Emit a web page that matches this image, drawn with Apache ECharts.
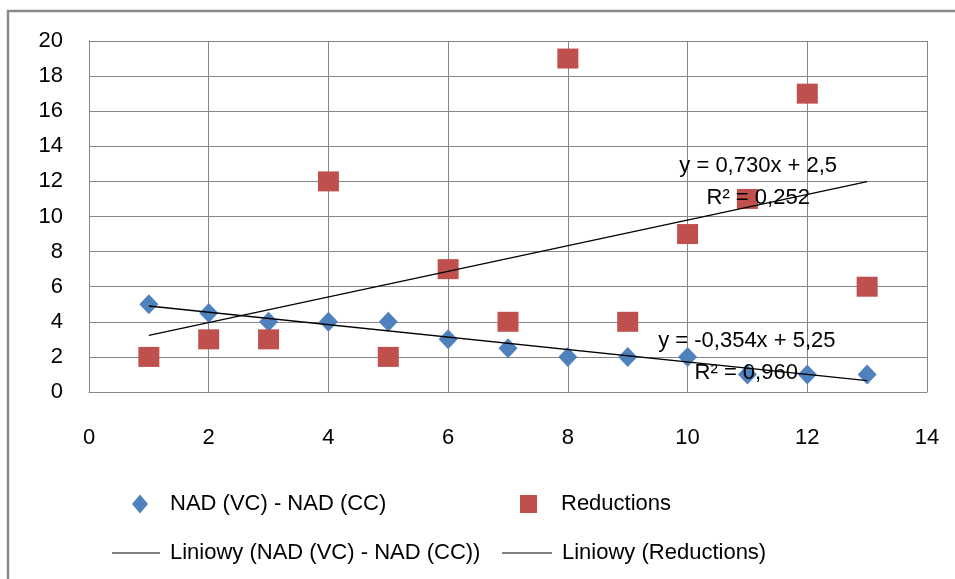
<!DOCTYPE html>
<html>
<head>
<meta charset="utf-8">
<script src="https://cdn.jsdelivr.net/npm/echarts@6/dist/echarts.min.js"></script>
<style>
html,body{margin:0;padding:0;background:#fff;}
#chart{width:955px;height:579px;}
</style>
</head>
<body>
<div id="chart"></div>
<script>
// ---- data ----
var xValues = [1, 2, 3, 4, 5, 6, 7, 8, 9, 10, 11, 12, 13];
var nadValues = [5, 4.5, 4, 4, 4, 3, 2.5, 2, 2, 2, 1, 1, 1];
var reductionValues = [2, 3, 3, 12, 2, 7, 4, 19, 4, 9, 11, 17, 6];
// trendline endpoints (x = 1 and x = 13) as seen in the picture
var trendX = [1, 13];
var trendNAD = [4.9, 0.65];
var trendRed = [3.23, 11.99];
var seriesNames = ['NAD (VC) - NAD (CC)', 'Reductions', 'Liniowy (NAD (VC) - NAD (CC))', 'Liniowy (Reductions)'];
var eqLabels = ['y = -0,354x + 5,25', 'R\u00B2 = 0,960', 'y = 0,730x + 2,5', 'R\u00B2 = 0,252'];
var eqPositions = [[10.99, 2.91], [10.98, 1.08], [11.18, 12.89], [11.18, 11.06]];

function pairs(xs, ys) { return xs.map(function (x, i) { return [x, ys[i]]; }); }

var FONT = 'Liberation Sans';
var GRID = '#878787';
var txt = { fontFamily: FONT, fontSize: 22, color: '#000' };

function eqMark(i) {
  return {
    name: 'eq' + i,
    coord: eqPositions[i],
    value: eqLabels[i],
    symbol: 'circle',
    symbolSize: 0,
    label: { show: true, position: 'inside', formatter: '{c}', fontFamily: FONT, fontSize: 22, color: '#000' }
  };
}

var chart = echarts.init(document.getElementById('chart'), null, { renderer: 'canvas' });
chart.setOption({
  backgroundColor: '#fff',
  animation: false,
  graphic: [{
    type: 'rect',
    shape: { x: 8, y: 11, width: 1000, height: 700 },
    style: { fill: 'none', stroke: '#8a8a8a', lineWidth: 2.5 },
    silent: true, z: -1
  }],
  grid: { left: 89, right: 28, top: 41, bottom: 187, containLabel: false },
  xAxis: {
    type: 'value', min: 0, max: 14, interval: 2,
    axisLine: { show: true, onZero: false, lineStyle: { color: GRID, width: 1 } },
    axisTick: { show: false },
    splitLine: { show: true, lineStyle: { color: GRID, width: 1 } },
    axisLabel: Object.assign({ margin: 35 }, txt)
  },
  yAxis: {
    type: 'value', min: 0, max: 20, interval: 2,
    axisLine: { show: true, onZero: false, lineStyle: { color: GRID, width: 1 } },
    axisTick: { show: false },
    splitLine: { show: true, lineStyle: { color: GRID, width: 1 } },
    axisLabel: Object.assign({ margin: 26 }, txt)
  },
  legend: [
    { data: [{ name: seriesNames[0], icon: 'diamond', itemStyle: { color: '#4F81BD', opacity: 1 } }], left: 127, top: 488, itemWidth: 16, itemHeight: 19,
      textStyle: Object.assign({ padding: [0, 0, 0, 17] }, txt) },
    { data: [{ name: seriesNames[1], icon: 'rect', itemStyle: { color: '#C0504D', opacity: 1 } }], left: 515, top: 488, itemWidth: 17, itemHeight: 18,
      textStyle: Object.assign({ padding: [0, 0, 0, 19] }, txt) },
    { data: [{ name: seriesNames[2], icon: 'path://M0,0H100V2H0Z', itemStyle: { color: '#000', opacity: 1 } }], left: 107, top: 537, itemWidth: 48, itemHeight: 2,
      textStyle: Object.assign({ padding: [0, 0, 0, 5] }, txt) },
    { data: [{ name: seriesNames[3], icon: 'path://M0,0H100V2H0Z', itemStyle: { color: '#000', opacity: 1 } }], left: 497, top: 537, itemWidth: 50, itemHeight: 2,
      textStyle: Object.assign({ padding: [0, 0, 0, 5] }, txt) }
  ],
  series: [
    {
      name: seriesNames[0], type: 'scatter', symbol: 'diamond', symbolSize: [19, 20],
      itemStyle: { color: '#4F81BD', opacity: 1 }, data: pairs(xValues, nadValues), z: 3
    },
    {
      name: seriesNames[1], type: 'scatter', symbol: 'rect', symbolSize: [21, 20],
      itemStyle: { color: '#C0504D', opacity: 1 }, data: pairs(xValues, reductionValues), z: 3
    },
    {
      name: seriesNames[2], type: 'line', symbol: 'none', data: pairs(trendX, trendNAD),
      itemStyle: { color: '#000' }, lineStyle: { color: '#000', width: 1.3 }, z: 4,
      markPoint: { data: [eqMark(0), eqMark(1)], z: 5 }
    },
    {
      name: seriesNames[3], type: 'line', symbol: 'none', data: pairs(trendX, trendRed),
      itemStyle: { color: '#000' }, lineStyle: { color: '#000', width: 1.3 }, z: 4,
      markPoint: { data: [eqMark(2), eqMark(3)], z: 5 }
    }
  ]
});
</script>
</body>
</html>
